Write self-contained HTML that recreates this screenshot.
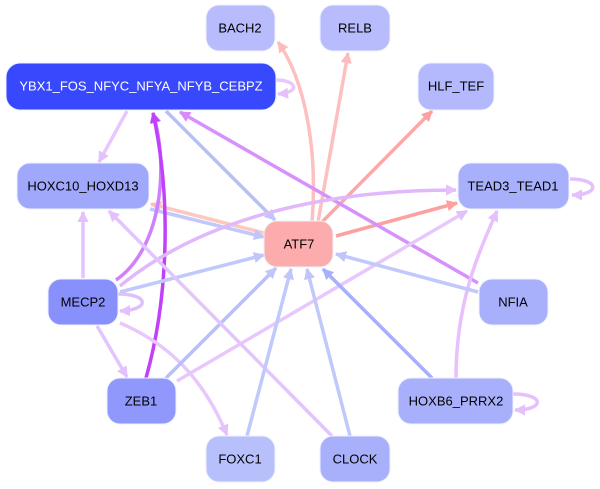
<!DOCTYPE html>
<html><head><meta charset="utf-8"><style>
html,body{margin:0;padding:0;background:#fff;}
svg{display:block;}
text{font-family:"Liberation Sans",Arial,sans-serif;font-size:13px;text-anchor:middle;dominant-baseline:central;fill:#000;}
</style></head><body>
<svg width="600" height="489" viewBox="0 0 600 489" xmlns="http://www.w3.org/2000/svg">
<defs>
<marker id="mPk" viewBox="0 0 10 10" refX="9" refY="5" markerWidth="3.2" markerHeight="3.2" orient="auto" markerUnits="strokeWidth"><path d="M0,0L10,5L0,10z" fill="#fcbcbc"/></marker>
<marker id="mRd" viewBox="0 0 10 10" refX="9" refY="5" markerWidth="3.2" markerHeight="3.2" orient="auto" markerUnits="strokeWidth"><path d="M0,0L10,5L0,10z" fill="#fca0a0"/></marker>
<marker id="mBl" viewBox="0 0 10 10" refX="9" refY="5" markerWidth="3.2" markerHeight="3.2" orient="auto" markerUnits="strokeWidth"><path d="M0,0L10,5L0,10z" fill="#c0c6fc"/></marker>
<marker id="mBd" viewBox="0 0 10 10" refX="9" refY="5" markerWidth="3.2" markerHeight="3.2" orient="auto" markerUnits="strokeWidth"><path d="M0,0L10,5L0,10z" fill="#a8b0fc"/></marker>
<marker id="mLv" viewBox="0 0 10 10" refX="9" refY="5" markerWidth="3.2" markerHeight="3.2" orient="auto" markerUnits="strokeWidth"><path d="M0,0L10,5L0,10z" fill="#e4c0fc"/></marker>
<marker id="mVi" viewBox="0 0 10 10" refX="9" refY="5" markerWidth="3.2" markerHeight="3.2" orient="auto" markerUnits="strokeWidth"><path d="M0,0L10,5L0,10z" fill="#d88cfc"/></marker>
<marker id="mPu" viewBox="0 0 10 10" refX="9" refY="5" markerWidth="3" markerHeight="3" orient="auto" markerUnits="strokeWidth"><path d="M0,0L10,5L0,10z" fill="#c040fc"/></marker>
</defs>
<g fill="none" stroke-width="3.5">
<path d="M312,222 C318,150 305,80 278,42" stroke="#fcc0c0" marker-end="url(#mPk)"/>
<path d="M318,222 L348,53" stroke="#fcc0c0" marker-end="url(#mPk)"/>
<path d="M322,222 L432,111" stroke="#fca8a8" marker-end="url(#mRd)"/>
<path d="M336,236 L457,203" stroke="#fca0a0" marker-end="url(#mRd)"/>
<path d="M264,233 L151,204" stroke="#fcc8c0" marker-end="url(#mPk)"/>
<path d="M150,209 L264,237" stroke="#c0c8fc" marker-end="url(#mBl)"/>
<path d="M166,111 L275,220" stroke="#b8c0fc" marker-end="url(#mBl)"/>
<path d="M127,111 L99,162" stroke="#e8c8fc" marker-end="url(#mLv)"/>
<path d="M276,80 C296,80 302,92 278,94" stroke="#e8c8fc" marker-end="url(#mLv)"/>
<path d="M478,283 L180,112" stroke="#d890fc" marker-end="url(#mVi)"/>
<path d="M116,280 C160,250 170,170 153,113" stroke="#d080fc" marker-end="url(#mVi)"/>
<path d="M146,378 C168,300 172,200 153,113" stroke="#c040fc" marker-end="url(#mPu)"/>
<path d="M120,286 C200,220 320,190 456,190" stroke="#e0b8fc" marker-end="url(#mLv)"/>
<path d="M83,278 L83,212" stroke="#e4c4fc" marker-end="url(#mLv)"/>
<path d="M120,292 L264,255" stroke="#c0c8fc" marker-end="url(#mBl)"/>
<path d="M97,326 L127,377" stroke="#e4c4fc" marker-end="url(#mLv)"/>
<path d="M120,323 C160,340 200,370 227,435" stroke="#e8c8fc" marker-end="url(#mLv)"/>
<path d="M118,294 C150,294 150,310 120,311" stroke="#e0c0fc" marker-end="url(#mLv)"/>
<path d="M166,378 L276,268" stroke="#b8c0fc" marker-end="url(#mBl)"/>
<path d="M177,381 L467,211" stroke="#e8c8fc" marker-end="url(#mLv)"/>
<path d="M332,436 L109,211" stroke="#e4c4fc" marker-end="url(#mLv)"/>
<path d="M350,436 L307,269" stroke="#c0c8fc" marker-end="url(#mBl)"/>
<path d="M247,436 L291,269" stroke="#c0c8fc" marker-end="url(#mBl)"/>
<path d="M432,378 L323,269" stroke="#a8b0fc" marker-end="url(#mBd)"/>
<path d="M456,378 C456,300 480,250 497,211" stroke="#e8c0fc" marker-end="url(#mLv)"/>
<path d="M513,394 C545,394 545,410 515,410" stroke="#e4c0fc" marker-end="url(#mLv)"/>
<path d="M478,292 L336,254" stroke="#c0c8fc" marker-end="url(#mBl)"/>
<path d="M570,179 C600,179 600,195 572,195" stroke="#e4c0fc" marker-end="url(#mLv)"/>
</g>
<g stroke="#eef0ff" stroke-width="1">
<rect x="206" y="5" width="69" height="46" rx="13" fill="#b8bcfc"/>
<rect x="320" y="5" width="70" height="46" rx="13" fill="#b8bcfc"/>
<rect x="6" y="63" width="270" height="47" rx="14" fill="#3848fc"/>
<rect x="418" y="63" width="76" height="47" rx="13" fill="#b4b8fc"/>
<rect x="17" y="163" width="132" height="46" rx="13" fill="#a0a8fc"/>
<rect x="458" y="163" width="111" height="46" rx="13" fill="#a8b0fc"/>
<rect x="264" y="221" width="69" height="46" rx="13" fill="#fcacac"/>
<rect x="48" y="279" width="70" height="46" rx="13" fill="#8890fc"/>
<rect x="479" y="279" width="69" height="46" rx="13" fill="#a8b0fc"/>
<rect x="107" y="378" width="69" height="46" rx="13" fill="#9098fc"/>
<rect x="398" y="378" width="115" height="46" rx="13" fill="#a8b0fc"/>
<rect x="206" y="436" width="69" height="46" rx="13" fill="#b8c0fc"/>
<rect x="320" y="436" width="70" height="46" rx="13" fill="#a8b0fc"/>
</g>
<text x="240" y="28">BACH2</text>
<text x="355" y="28">RELB</text>
<text x="141" y="86" style="fill:#fff">YBX1_FOS_NFYC_NFYA_NFYB_CEBPZ</text>
<text x="456" y="86">HLF_TEF</text>
<text x="83" y="186">HOXC10_HOXD13</text>
<text x="513" y="186">TEAD3_TEAD1</text>
<text x="299" y="244">ATF7</text>
<text x="83" y="302">MECP2</text>
<text x="513" y="302">NFIA</text>
<text x="141" y="401">ZEB1</text>
<text x="456" y="401">HOXB6_PRRX2</text>
<text x="240" y="459">FOXC1</text>
<text x="355" y="459">CLOCK</text>
</svg>
</body></html>
